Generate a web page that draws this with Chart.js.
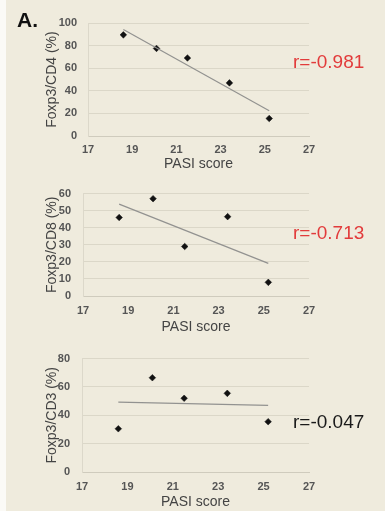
<!DOCTYPE html>
<html>
<head>
<meta charset="utf-8">
<script src="https://cdn.jsdelivr.net/npm/chart.js@4.4.1/dist/chart.umd.min.js"></script>
<style>
  html, body { margin: 0; padding: 0; }
  body { width: 385px; height: 511px; background: #efebdd; position: relative; overflow: hidden; font-family: "Liberation Sans", Arial, sans-serif; }
  #strip { position: absolute; left: 0; top: 0; width: 6px; height: 511px; background: #fbfaf6; }
  canvas { position: absolute; left: 0; }
  .lbl { position: absolute; line-height: 1; white-space: nowrap; }
  #panelA { left: 17px; top: 9px; font-size: 21px; font-weight: bold; color: #111; }
  .r { left: 293px; font-size: 19px; }
</style>
</head>
<body>
<div id="strip"></div>
<canvas id="c1" width="385" height="175" style="top:0px;width:385px;height:175px"></canvas>
<canvas id="c2" width="385" height="165" style="top:175px;width:385px;height:165px"></canvas>
<canvas id="c3" width="385" height="171" style="top:340px;width:385px;height:171px"></canvas>
<div id="panelA" class="lbl">A.</div>
<div class="lbl r" style="top:52px;color:#e23b3b">r=-0.981</div>
<div class="lbl r" style="top:223px;color:#e23b3b">r=-0.713</div>
<div class="lbl r" style="top:412px;color:#1a1a1a">r=-0.047</div>
<script>
// ---- data ----
const pasi = [18.6, 20.1, 21.5, 23.4, 25.2];
const foxpCD4 = [89.5, 77.5, 69, 47, 15.5];
const foxpCD8 = [46, 57, 29, 46.5, 8];
const foxpCD3 = [30.5, 66.5, 52, 55.5, 35.5];
const trendX = [18.6, 25.2];
const trendCD4 = [94.2, 22.4];
const trendCD8 = [53.8, 19.1];
const trendCD3 = [49.3, 47.0];
const xTicks = [17, 19, 21, 23, 25, 27];
const yTitles = ['Foxp3/CD4 (%)', 'Foxp3/CD8 (%)', 'Foxp3/CD3 (%)'];
const xTitle = 'PASI score';

const FONT = '"Liberation Sans", Arial, sans-serif';
const GRID = '#dbd7c8';

function pts(xs, ys) { return xs.map((x, i) => ({ x: x, y: ys[i] })); }

function makeChart(id, values, trend, yMax, yStep, yTitle, lay) {
  const canvasH = lay.h;
  new Chart(document.getElementById(id), {
    type: 'scatter',
    data: {
      datasets: [
        {
          type: 'line',
          data: pts(trendX, trend),
          borderColor: '#929290',
          borderWidth: 1.2,
          pointRadius: 0,
          fill: false,
          tension: 0
        },
        {
          data: pts(pasi, values),
          pointStyle: 'rectRot',
          pointRadius: 3.3,
          backgroundColor: '#111',
          borderColor: '#111',
          borderWidth: 0.5
        }
      ]
    },
    options: {
      responsive: false,
      animation: false,
      devicePixelRatio: 1,
      layout: { padding: { top: lay.top, left: lay.padLeft, right: 385 - lay.right, bottom: 0 } },
      plugins: { legend: { display: false }, tooltip: { enabled: false } },
      scales: {
        x: {
          type: 'linear',
          min: 17, max: 27,
          afterBuildTicks: (s) => { s.ticks = xTicks.map(v => ({ value: v })); },
          afterFit: (s) => { s.height = canvasH - lay.bottom; },
          grid: { display: false, drawTicks: false },
          border: { display: true, color: '#cfcbbd', width: 1 },
          ticks: { padding: lay.tickPad, color: '#555', font: { family: FONT, size: 11, weight: 'bold' }, maxRotation: 0 },
          title: { display: true, text: xTitle, color: '#444', font: { family: FONT, size: 14 }, padding: { top: 0, bottom: lay.titlePad } }
        },
        y: {
          type: 'linear',
          min: 0, max: yMax,
          ticks: { stepSize: yStep, padding: lay.yTickPad, color: '#555', font: { family: FONT, size: 11, weight: 'bold' } },
          afterFit: (s) => { s.width = lay.left - lay.padLeft; },
          grid: { color: GRID, lineWidth: 1, drawTicks: false },
          border: { display: true, color: '#dcd8ca', width: 1 },
          title: { display: true, text: yTitle, color: '#444', font: { family: FONT, size: 14 }, padding: { top: 4, bottom: 0 } }
        }
      }
    }
  });
}

makeChart('c1', foxpCD4, trendCD4, 100, 20, yTitles[0],
  { h: 175, top: 23, bottom: 136, left: 88, right: 309, padLeft: 40, tickPad: 7, titlePad: 2, yTickPad: 11 });
makeChart('c2', foxpCD8, trendCD8, 60, 10, yTitles[1],
  { h: 165, top: 8, bottom: 121, left: 83, right: 309, padLeft: 40, tickPad: 8, titlePad: 4, yTickPad: 12 });
makeChart('c3', foxpCD3, trendCD3, 80, 20, yTitles[2],
  { h: 171, top: 18, bottom: 132, left: 82, right: 309, padLeft: 40, tickPad: 8, titlePad: 0, yTickPad: 12 });
</script>
</body>
</html>
